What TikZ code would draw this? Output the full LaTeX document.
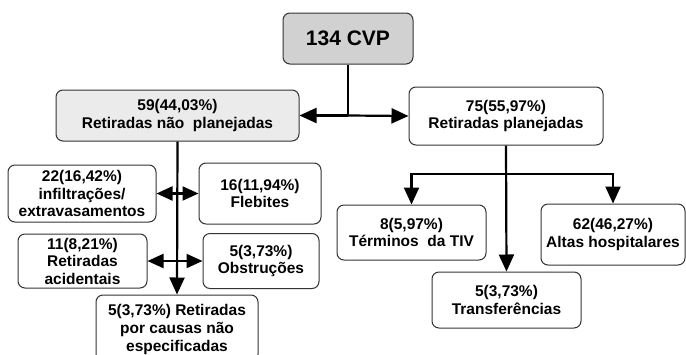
\documentclass[tikz,border=0pt]{standalone}
\usepackage{fontspec}
\setmainfont{Liberation Sans}
\usetikzlibrary{arrows.meta}

\begin{document}
\begin{tikzpicture}[
x=1pt,y=-1pt,
font=\bfseries\fontsize{15.5}{17.5}\selectfont,
box/.style={rectangle,rounded corners=7pt,draw=black!80,line width=1pt,fill=white,align=center,inner sep=0pt},
connector/.style={line width=2.2pt,-{Triangle[length=17pt,width=15pt]}},
twoway/.style={line width=2.2pt,{Triangle[length=16pt,width=14pt]}-{Triangle[length=16pt,width=14pt]}}
]

\useasboundingbox (0,0) rectangle (686,354);

% Draw root
\node [box,fill=black!18,minimum width=130pt,minimum height=51pt,font=\bfseries\fontsize{21}{24}\selectfont] (cvp) at (348,38.5) {134 CVP};

% Draw first level
\node [box,fill=black!8,minimum width=243pt,minimum height=51pt] (nplan) at (177.5,115.5) {59(44,03\%)\\Retiradas não\ \ planejadas};
\node [box,minimum width=194pt,minimum height=58pt] (plan) at (506,116) {75(55,97\%)\\Retiradas planejadas};

% Draw unplanned causes
\node [box,minimum width=148pt,minimum height=57pt] (infil) at (82,193.5) {22(16,42\%)\\infiltrações/\\extravasamentos};
\node [box,minimum width=122pt,minimum height=61pt] (fleb) at (260,193.5) {16(11,94\%)\\Flebites};
\node [box,minimum width=129pt,minimum height=54pt] (acid) at (82.5,261) {11(8,21\%)\\Retiradas\\acidentais};
\node [box,minimum width=116pt,minimum height=55pt] (obst) at (261,261) {5(3,73\%)\\Obstruções};
\node [box,minimum width=162pt,minimum height=66pt,text depth=0pt] (naoesp) at (177,328) {5(3,73\%) Retiradas\\por causas não\\[1pt]especificadas};

% Draw planned causes
\node [box,minimum width=149pt,minimum height=55pt] (term) at (411.5,232.5) {8(5,97\%)\\Términos\ \ da TIV};
\node [box,minimum width=144pt,minimum height=61pt] (altas) at (613,234.5) {62(46,27\%)\\Altas hospitalares};
\node [box,minimum width=149pt,minimum height=56pt] (transf) at (506.5,300) {5(3,73\%)\\Transferências};

% Draw connectors
\coordinate (split) at (cvp.south |- nplan.east);
\draw [line width=2.2pt] (cvp.south) -- (split);
\draw [connector] (split) -- (nplan.east);
\draw [connector] (split) -- (plan.west);

\draw [connector] (nplan.south) -- (naoesp.north);
\draw [twoway] (infil.east) -- (fleb.west);
\draw [twoway] (acid.east) -- (obst.west);

\coordinate (fork) at (plan.south |- 0,174);
\draw [connector] (plan.south) -- (transf.north);
\draw [connector] (fork) -| (term.north);
\draw [connector] (fork) -| (altas.north);

\end{tikzpicture}
\end{document}
